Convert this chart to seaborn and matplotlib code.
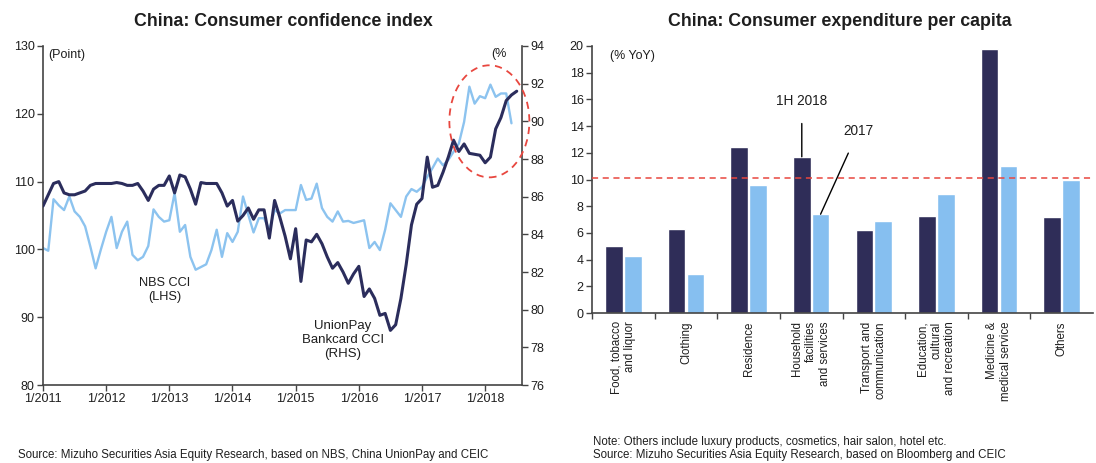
import numpy as np
import pandas as pd
import matplotlib
matplotlib.use("Agg")
import matplotlib.pyplot as plt
import seaborn as sns
from matplotlib.patches import Ellipse

# ---------------- data ----------------
# Monthly series starting January 2011
nbs_cci = [
    100.2, 99.8, 107.4, 106.5, 105.8, 107.8, 105.6, 104.8, 103.4, 100.4, 97.2, 100.0,   # 2011
    102.6, 104.8, 100.2, 102.6, 104.1, 99.2, 98.4, 98.9, 100.5, 105.9, 104.8, 104.1,     # 2012
    104.3, 108.3, 102.6, 103.6, 98.9, 97.0, 97.4, 97.8, 99.9, 102.9, 98.9, 102.4,        # 2013
    101.1, 102.6, 107.8, 105.1, 102.5, 104.6, 104.6, 102.9, 105.8, 105.3, 105.8, 105.8,  # 2014
    105.8, 109.5, 107.3, 107.5, 109.7, 106.1, 104.8, 104.1, 105.6, 104.1, 104.2, 103.9,  # 2015
    104.1, 104.3, 100.2, 101.1, 99.9, 102.9, 106.8, 105.8, 104.8, 107.8, 108.9, 108.5,   # 2016
    109.2, 110.7, 112.0, 113.4, 112.4, 113.2, 114.4, 115.6, 118.8, 124.0, 121.5, 122.6,  # 2017
    122.3, 124.3, 122.5, 123.0, 123.0, 118.6,                                            # 2018
]
unionpay_cci = [
    85.5, 86.1, 86.7, 86.8, 86.2, 86.1, 86.1, 86.2, 86.3, 86.6, 86.7, 86.7,   # 2011
    86.7, 86.7, 86.75, 86.7, 86.6, 86.6, 86.7, 86.3, 85.8, 86.4, 86.6, 86.6,  # 2012
    87.1, 86.2, 87.15, 87.05, 86.4, 85.6, 86.75, 86.7, 86.7, 86.7, 86.2, 85.5, # 2013
    85.8, 84.7, 85.0, 85.4, 84.8, 85.3, 85.3, 83.8, 85.8, 84.9, 83.9, 82.7,   # 2014
    84.3, 81.5, 83.7, 83.6, 84.0, 83.5, 82.8, 82.2, 82.5, 82.0, 81.4, 81.9,   # 2015
    82.3, 80.7, 81.1, 80.6, 79.7, 79.8, 78.9, 79.2, 80.6, 82.4, 84.5, 85.6,   # 2016
    85.9, 88.1, 86.5, 86.6, 87.3, 88.1, 89.0, 88.4, 88.8, 88.3, 88.25, 88.2,  # 2017
    87.8, 88.1, 89.6, 90.2, 91.1, 91.4, 91.6,                                 # 2018
]
year_labels = ["1/2011", "1/2012", "1/2013", "1/2014", "1/2015", "1/2016", "1/2017", "1/2018"]

categories = [
    "Food, tobacco\nand liquor",
    "Clothing",
    "Residence",
    "Household\nfacilities\nand services",
    "Transport and\ncommunication",
    "Education,\ncultural\nand recreation",
    "Medicine &\nmedical service",
    "Others",
]
growth_1h2018 = [5.0, 6.3, 12.4, 11.7, 6.2, 7.3, 19.8, 7.2]
growth_2017 = [4.3, 2.9, 9.6, 7.4, 6.9, 8.9, 11.0, 10.0]
overall_growth = 10.1

# ---------------- style ----------------
DARK = "#2b2d5c"
LIGHT = "#8cc3ef"
BAR_DARK = "#2f2d58"
BAR_LIGHT = "#86bff0"
RED = "#e8473f"
INK = "#1e1e1e"
SPINE = "#444444"

sns.set_theme(style="white")
plt.rcParams["font.family"] = ["Liberation Sans", "DejaVu Sans"]
plt.rcParams.update({
    "axes.edgecolor": SPINE,
    "axes.linewidth": 1.2,
    "xtick.color": SPINE,
    "ytick.color": SPINE,
    "xtick.labelcolor": INK,
    "ytick.labelcolor": INK,
    "xtick.major.size": 4,
    "ytick.major.size": 4,
    "xtick.bottom": True,
    "ytick.left": True,
    "text.color": INK,
})

W, H = 1096, 463
fig = plt.figure(figsize=(W / 100, H / 100), dpi=100)


def box(l, t, r, b):
    return [l / W, 1 - b / H, (r - l) / W, (b - t) / H]


# ---------------- left: confidence indices ----------------
ax = fig.add_axes(box(43, 46, 522, 385))
ax2 = ax.twinx()

nbs_df = pd.DataFrame({"month": np.arange(len(nbs_cci)), "cci": nbs_cci})
up_df = pd.DataFrame({"month": np.arange(len(unionpay_cci)), "cci": unionpay_cci})

sns.lineplot(data=nbs_df, x="month", y="cci", ax=ax, color=LIGHT, lw=1.7)
sns.lineplot(data=up_df, x="month", y="cci", ax=ax2, color=DARK, lw=2.2)

ax.set_xlim(0, 91)
ax.set_ylim(80, 130)
ax2.set_ylim(76, 94)
ax.set_yticks(range(80, 131, 10))
ax2.set_yticks(range(76, 95, 2))
ax.set_xticks(np.arange(len(year_labels)) * 12)
ax.set_xticklabels(year_labels)
for a in (ax, ax2):
    a.set_xlabel("")
    a.set_ylabel("")
    a.spines["top"].set_visible(False)
ax.spines["right"].set_visible(False)
ax2.spines["left"].set_visible(False)
ax2.spines["bottom"].set_visible(False)
ax.tick_params(axis="both", labelsize=9, pad=2, width=1)
ax2.tick_params(axis="y", labelsize=9, pad=2, width=1, right=True)

ax.text(0.012, 0.99, "(Point)", transform=ax.transAxes, fontsize=9, va="top", ha="left")
ax.text(0.936, 0.975, "(%", transform=ax.transAxes, fontsize=9, va="center", ha="left")
ax.text(23.2, 94.0, "NBS CCI\n(LHS)", fontsize=9.2, ha="center", va="center", linespacing=1.2)
ax.text(57.0, 86.6, "UnionPay\nBankcard CCI\n(RHS)", fontsize=9.5, ha="center", va="center",
        linespacing=1.2)

ax2.add_patch(Ellipse((84.8, 90.0), width=15.2, height=5.95, fill=False, edgecolor=RED,
                      lw=1.3, linestyle=(0, (4, 3)), clip_on=False, zorder=5,
                      transform=ax2.transData))

fig.text(283 / W, 1 - 22 / H, "China: Consumer confidence index", ha="center", va="center",
         fontsize=12.8, fontweight="bold")
fig.text(18 / W, 1 - 455 / H,
         "Source: Mizuho Securities Asia Equity Research, based on NBS, China UnionPay and CEIC",
         ha="left", va="center", fontsize=8.3)

# ---------------- right: expenditure growth ----------------
bx = fig.add_axes(box(592, 46, 1093, 313))
exp_df = pd.DataFrame({
    "category": categories * 2,
    "period": ["1H 2018"] * len(categories) + ["2017"] * len(categories),
    "growth": growth_1h2018 + growth_2017,
})
sns.barplot(data=exp_df, x="category", y="growth", hue="period",
            palette=[BAR_DARK, BAR_LIGHT], saturation=1, width=0.6, gap=0.06,
            ax=bx, legend=False)

bx.axhline(overall_growth, color=RED, lw=1.1, linestyle=(0, (4, 3)), zorder=4)

bx.set_xlim(-0.5, len(categories) - 0.5)
bx.set_ylim(0, 20)
bx.set_yticks(range(0, 21, 2))
bx.set_xlabel("")
bx.set_ylabel("")
bx.spines["top"].set_visible(False)
bx.spines["right"].set_visible(False)
bx.set_xticks(range(len(categories)))
bx.set_xticklabels(categories, rotation=90, fontsize=8.3, va="top", ha="center",
                   multialignment="right", linespacing=1.2)
bx.set_xticks(np.arange(-0.5, len(categories) - 1, 1), minor=True)
bx.tick_params(axis="x", which="major", length=0, pad=6)
bx.tick_params(axis="x", which="minor", length=4, width=1, bottom=True)
bx.tick_params(axis="y", labelsize=9, pad=2, width=1)

bx.text(0.035, 0.985, "(% YoY)", transform=bx.transAxes, fontsize=8.9, va="top", ha="left")

slot = 0.6 / 2
bx.annotate("1H 2018", xy=(3 - slot / 2, growth_1h2018[3]), xytext=(3 - slot / 2, 15.9),
            fontsize=9.8, ha="center", va="center",
            arrowprops=dict(arrowstyle="-", color="black", lw=1, shrinkA=9, shrinkB=0))
bx.annotate("2017", xy=(3 + slot / 2, growth_2017[3]), xytext=(3.75, 13.6),
            fontsize=9.8, ha="center", va="center",
            arrowprops=dict(arrowstyle="-", color="black", lw=1, shrinkA=9, shrinkB=0))

fig.text(840 / W, 1 - 22 / H, "China: Consumer expenditure per capita", ha="center",
         va="center", fontsize=12.8, fontweight="bold")
fig.text(593 / W, 1 - 442 / H,
         "Note: Others include luxury products, cosmetics, hair salon, hotel etc.",
         ha="left", va="center", fontsize=8.3)
fig.text(593 / W, 1 - 455 / H,
         "Source: Mizuho Securities Asia Equity Research, based on Bloomberg and CEIC",
         ha="left", va="center", fontsize=8.3)

fig.savefig("out.png", dpi=100)
